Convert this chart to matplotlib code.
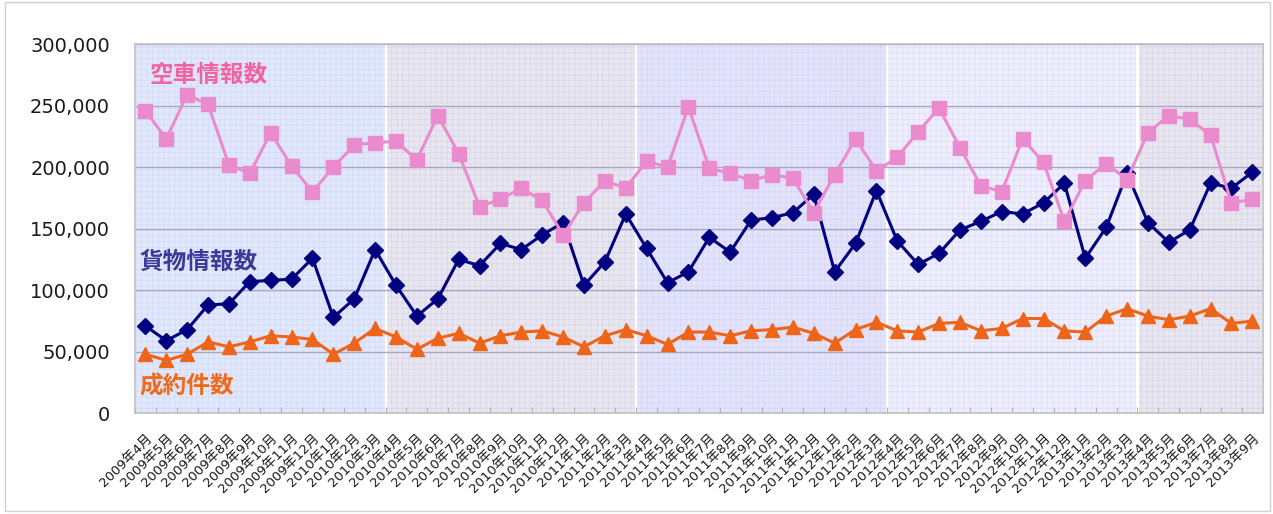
import numpy as np
import matplotlib
matplotlib.use("Agg")
from matplotlib import pyplot as plt
from matplotlib.patches import Rectangle

plt.rcParams['font.family'] = ['DejaVu Sans', 'Noto Sans CJK JP']
plt.rcParams['hatch.linewidth'] = 0.5

# months 2009/4 .. 2013/9
months = []
for y in range(2009, 2014):
    for m in range(1, 13):
        if (y == 2009 and m < 4) or (y == 2013 and m > 9):
            continue
        months.append(f"{y}年{m}月")

# 空車情報数
empty_trucks = [246000, 223000, 259000, 251000, 202000, 195000, 228000, 201000, 180000, 200000, 218000, 220000,
                221000, 206000, 242000, 211000, 168000, 174000, 183000, 173000, 145000, 171000, 189000, 183000,
                205000, 200000, 249000, 199000, 195000, 189000, 194000, 191000, 163000, 194000, 223000, 197000,
                208000, 229000, 248000, 216000, 185000, 180000, 223000, 204000, 156000, 189000, 203000, 190000,
                228000, 242000, 239000, 226000, 171000, 174000]
# 貨物情報数
cargo = [71000, 59000, 68000, 88000, 89000, 107000, 108000, 109000, 126000, 78000, 93000, 133000,
         104000, 79000, 93000, 125000, 120000, 138000, 133000, 145000, 155000, 104000, 123000, 162000,
         134000, 106000, 115000, 143000, 131000, 157000, 159000, 163000, 178000, 115000, 138000, 181000,
         140000, 121000, 130000, 149000, 156000, 164000, 162000, 171000, 187000, 126000, 151000, 195000,
         155000, 139000, 149000, 187000, 183000, 196000]
# 成約件数
contracts = [48000, 43000, 48000, 58000, 54000, 58000, 63000, 62000, 60000, 48000, 57000, 69000,
             62000, 52000, 61000, 65000, 57000, 63000, 66000, 67000, 62000, 54000, 63000, 68000,
             63000, 56000, 66000, 66000, 63000, 67000, 68000, 70000, 65000, 57000, 68000, 74000,
             67000, 66000, 73000, 74000, 67000, 69000, 77000, 77000, 67000, 66000, 79000, 85000,
             79000, 76000, 79000, 85000, 73000, 75000]

# fiscal-year bands: (first index, last index + 1, face, hatch colour)
bands = [(0, 12, '#e2e8fc', '#d0d9f8'),
         (12, 24, '#e8e6f0', '#d9d6e7'),
         (24, 36, '#e3e3fb', '#d6d6f8'),
         (36, 48, '#eeeefd', '#dedefa'),
         (48, 54, '#e8e6f0', '#d9d6e7')]

x = np.arange(len(months))

fig = plt.figure(figsize=(12.73, 5.14), dpi=100)
fig.patches.append(Rectangle((0.004, 0.006), 0.994, 0.99, transform=fig.transFigure,
                             fill=False, edgecolor='#d0d0d0', linewidth=1))
ax = fig.add_axes([0.106, 0.196, 0.886, 0.718])

for a, b, fc, hc in bands:
    ax.axvspan(a - 0.5 + 0.05, b - 0.5 - 0.05, facecolor=fc, edgecolor=hc,
               hatch='+++', linewidth=0, zorder=0)

ax.grid(axis='y', color='#a8a8c0', linewidth=1, zorder=1)
ax.set_axisbelow(True)

ax.plot(x, cargo, color='#000080', marker='D', markersize=8, linewidth=2.2, zorder=3)
ax.plot(x, empty_trucks, color='#ea8bce', marker='s', markersize=10, linewidth=2.2, zorder=4)
ax.plot(x, contracts, color='#ee6418', marker='^', markersize=10, linewidth=2.2, zorder=5)

ax.set_xlim(-0.5, len(months) - 0.5)
ax.set_ylim(0, 300000)
ax.set_yticks(np.arange(0, 300001, 50000))
ax.set_yticklabels([f"{v:,}" for v in range(0, 300001, 50000)], fontsize=14, color='#1a1a1a')
ax.tick_params(axis='y', length=0, pad=18)

ax.set_xticks(np.arange(-0.5, len(months), 1))
ax.set_xticklabels([])
ax.tick_params(axis='x', which='major', direction='in', length=4, color='#b0b0b0')
ax.set_xticks(x, minor=True)
ax.set_xticklabels(months, minor=True, rotation=45, ha='right', rotation_mode='anchor',
                   fontsize=9.5, color='#1a1a1a')
ax.tick_params(axis='x', which='minor', length=0, pad=13)

for s in ax.spines.values():
    s.set_color('#c0c0c0')
    s.set_linewidth(1.2)

jp = ['Noto Sans CJK JP']
ax.text(0.2, 275000, '空車情報数', color='#f462a0', fontsize=17, fontweight='bold', va='center', family=jp)
ax.text(-0.3, 123000, '貨物情報数', color='#3a3a98', fontsize=17, fontweight='bold', va='center', family=jp)
ax.text(-0.3, 21500, '成約件数', color='#f06a1a', fontsize=17, fontweight='bold', va='center', family=jp)

fig.savefig('out.png', dpi=100)
